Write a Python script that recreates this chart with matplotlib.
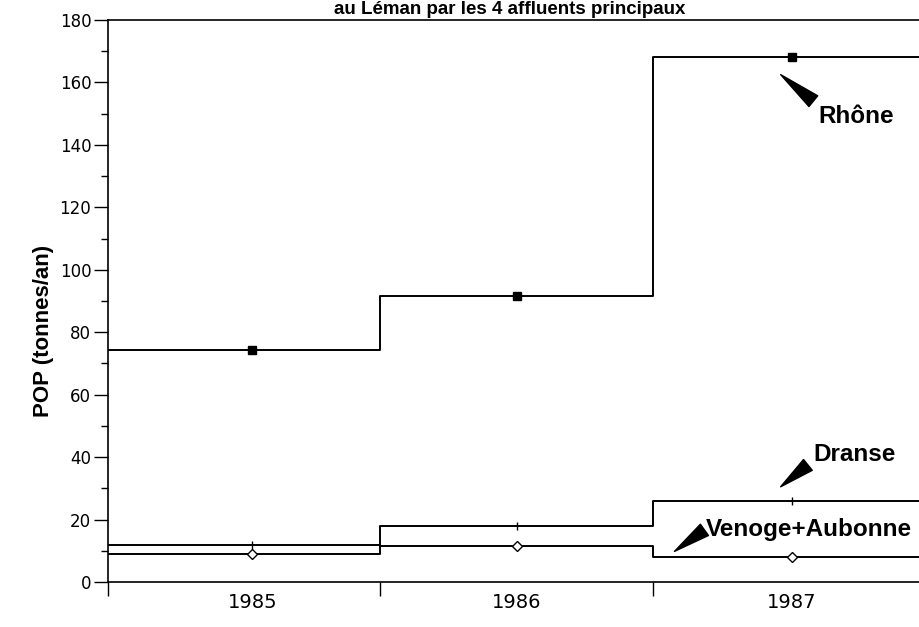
import matplotlib
matplotlib.use('Agg')
import matplotlib.pyplot as plt

# donnees (POP en tonnes/an)
years = ['1985', '1986', '1987']
rhone = [74.2, 91.5, 168.0]
dranse = [12.0, 17.8, 25.8]
venoge = [9.0, 11.5, 8.0]

edges = [0, 1, 2, 3]
centers = [0.53, 1.5, 2.51]

fig = plt.figure(figsize=(9.2, 6.27), dpi=100)
ax = fig.add_axes([108 / 920, 45 / 627, 817 / 920, 562 / 627])

# courbes en escalier
for vals, mk, mfc in [(rhone, 's', 'black'), (dranse, '|', 'black'), (venoge, 'D', 'white')]:
    ax.step(edges, vals + [vals[-1]], where='post', color='black', lw=1.4)
    ax.plot(centers, vals, ls='none', marker=mk, ms=6 if mk != 'D' else 5,
            mfc=mfc, mec='black', mew=1.0)

ax.set_xlim(0, 3.0)
ax.set_ylim(0, 180)

ax.set_yticks(range(0, 181, 20))
ax.set_yticks(range(10, 180, 20), minor=True)
ax.tick_params(axis='y', which='major', direction='out', length=10, width=1,
               labelsize=12, pad=2)
ax.tick_params(axis='y', which='minor', direction='out', length=5, width=1)

ax.set_xticks(edges[:3])
ax.set_xticklabels([])
ax.set_xticks(centers, minor=True)
ax.set_xticklabels(years, minor=True, fontsize=14)
ax.tick_params(axis='x', which='major', direction='out', length=10, width=1)
ax.tick_params(axis='x', which='minor', length=0, pad=8)

ax.spines['right'].set_visible(False)
for s in ['left', 'top', 'bottom']:
    ax.spines[s].set_linewidth(1.2)

ax.set_ylabel('POP (tonnes/an)', fontsize=16, fontweight='bold',
              family='Liberation Sans')
ax.yaxis.set_label_coords(-0.066, 0.447)

# annotations avec fleches en coin
labels = [('Rhône', (2.47, 162.5), (2.59, 154.0), (2.61, 149.0)),
          ('Dranse', (2.47, 30.5), (2.57, 37.5), (2.59, 40.8)),
          ('Venoge+Aubonne', (2.08, 9.8), (2.19, 16.7), (2.195, 16.9))]
for txt, tip, base, pos in labels:
    ax.annotate('', xy=tip, xytext=base,
                arrowprops=dict(arrowstyle='wedge,tail_width=0.5', color='black',
                                mutation_scale=20, shrinkA=0, shrinkB=0))
    ax.text(pos[0], pos[1], txt, fontsize=17.5, fontweight='bold',
            family='Liberation Sans', va='center', ha='left')

fig.text(0.554, 1 - 1 / 627, 'au Léman par les 4 affluents principaux',
         ha='center', va='top', fontsize=13.5, fontweight='bold',
         family='Liberation Sans')

fig.savefig('out.png', dpi=100)
